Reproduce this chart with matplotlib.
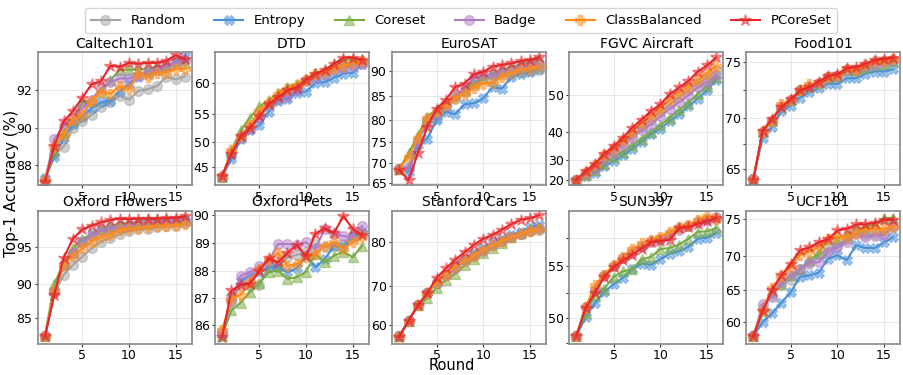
import numpy as np
import matplotlib
matplotlib.use("Agg")
import matplotlib.pyplot as plt
import matplotlib.ticker as ticker
from matplotlib.colors import to_rgba

rounds = np.arange(1, 17)

methods = ["Random", "Entropy", "Coreset", "Badge", "ClassBalanced", "PCoreSet"]
colors = ["#a3a3a3", "#4a90d9", "#77ab43", "#b07cc6", "#ff8c1a", "#e8262a"]
markers = ["o", "X", "^", "o", "P", "*"]

datasets = ["Caltech101", "DTD", "EuroSAT", "FGVC Aircraft", "Food101",
            "Oxford Flowers", "Oxford Pets", "Stanford Cars", "SUN397", "UCF101"]

# rows follow the order of `methods`
caltech101 = [
    [87.2, 88.6, 89.0, 90.0, 90.35, 90.7, 91.1, 91.35, 91.7, 91.5, 91.95, 92.05, 92.2, 92.7, 92.55, 92.7],
    [87.3, 88.45, 89.45, 90.2, 90.6, 91.05, 91.35, 91.45, 91.95, 92.3, 92.7, 92.85, 93.05, 93.2, 93.5, 93.75],
    [87.2, 88.75, 89.8, 90.45, 91.35, 91.5, 91.9, 92.5, 93.05, 93.05, 93.05, 93.1, 93.2, 93.25, 93.4, 93.4],
    [87.2, 89.4, 90.1, 90.5, 91.05, 91.5, 92.1, 92.4, 92.6, 92.6, 92.75, 92.95, 93.05, 93.25, 93.4, 93.55],
    [87.2, 89.0, 89.65, 90.45, 90.7, 91.45, 91.9, 91.8, 92.2, 92.05, 92.85, 92.65, 92.9, 92.9, 93.1, 93.1],
    [87.1, 89.05, 90.35, 90.9, 91.6, 92.3, 92.45, 93.25, 93.2, 93.4, 93.35, 93.4, 93.4, 93.5, 93.8, 93.6],
]
dtd = [
    [42.9, 47.4, 50.7, 52.5, 54.4, 56.4, 57.45, 58.0, 58.8, 60.5, 60.9, 61.4, 62.1, 62.4, 62.9, 63.1],
    [42.9, 46.7, 50.4, 52.2, 52.95, 55.3, 57.1, 57.45, 58.4, 58.6, 59.95, 60.1, 60.8, 61.4, 61.5, 62.8],
    [42.9, 48.3, 52.1, 54.3, 56.2, 57.2, 58.4, 59.4, 59.85, 60.6, 61.5, 61.9, 62.8, 63.4, 63.6, 63.6],
    [42.9, 47.8, 50.9, 52.3, 54.3, 56.5, 57.45, 57.8, 58.8, 60.2, 60.8, 61.3, 61.9, 62.3, 62.5, 62.9],
    [43.0, 48.3, 51.1, 52.95, 55.5, 56.9, 58.2, 59.0, 59.6, 60.5, 61.4, 61.6, 62.2, 62.6, 63.0, 63.3],
    [43.1, 47.6, 51.0, 52.5, 54.5, 56.6, 57.7, 58.8, 59.2, 60.5, 61.4, 62.0, 62.9, 63.8, 63.8, 63.5],
]
eurosat = [
    [68.6, 68.6, 75.0, 79.5, 80.4, 82.7, 84.3, 85.8, 87.2, 88.3, 88.7, 89.3, 89.4, 89.8, 90.0, 90.2],
    [68.6, 67.8, 74.3, 75.8, 79.9, 81.7, 81.2, 83.3, 83.5, 84.5, 86.8, 86.5, 88.7, 89.4, 89.7, 90.4],
    [68.6, 72.4, 76.6, 80.7, 82.2, 83.7, 85.1, 86.2, 87.6, 88.5, 89.5, 90.1, 90.6, 91.3, 91.6, 92.3],
    [68.6, 69.0, 75.4, 79.9, 81.5, 83.4, 84.9, 86.5, 88.6, 89.1, 89.1, 89.8, 90.1, 90.7, 91.0, 91.4],
    [68.6, 71.5, 76.0, 80.3, 81.7, 83.1, 84.5, 85.5, 86.7, 87.5, 87.6, 88.8, 89.5, 90.2, 90.4, 90.7],
    [68.4, 65.6, 72.4, 78.4, 82.4, 84.2, 86.8, 87.5, 89.3, 89.75, 90.8, 91.1, 91.4, 91.8, 92.05, 92.6],
]
fgvc_aircraft = [
    [20.4, 24.1, 27.0, 31.0, 33.8, 36.3, 38.8, 41.4, 43.5, 45.6, 47.6, 49.5, 51.1, 52.9, 54.2, 55.7],
    [20.4, 22.4, 24.1, 27.3, 29.6, 31.9, 34.4, 36.7, 39.2, 40.9, 43.1, 45.0, 47.1, 49.1, 51.1, 53.6],
    [20.4, 22.9, 25.4, 28.5, 31.2, 33.1, 35.5, 37.8, 39.9, 41.9, 44.1, 46.1, 48.0, 50.2, 52.1, 54.2],
    [20.4, 23.8, 26.2, 30.2, 32.8, 35.5, 38.1, 40.4, 42.2, 44.4, 46.5, 48.2, 49.9, 51.8, 53.1, 54.6],
    [20.4, 24.6, 27.8, 31.9, 34.7, 37.2, 39.9, 42.6, 44.4, 46.5, 48.7, 50.5, 51.9, 53.6, 55.0, 56.6],
    [20.4, 25.1, 28.5, 32.5, 35.2, 38.1, 41.2, 43.5, 45.9, 47.6, 50.2, 51.8, 53.3, 55.4, 56.8, 58.5],
]
food101 = [
    [64.0, 68.6, 69.7, 71.0, 71.6, 72.5, 72.8, 73.2, 73.7, 73.8, 74.3, 74.3, 74.7, 75.0, 75.1, 75.1],
    [64.0, 68.05, 69.1, 70.6, 71.1, 71.85, 72.35, 72.7, 73.1, 73.1, 73.6, 73.6, 74.0, 74.2, 74.2, 74.4],
    [64.0, 68.6, 69.7, 71.0, 71.6, 72.5, 72.8, 73.2, 73.75, 73.8, 74.3, 74.3, 74.5, 74.8, 74.9, 75.1],
    [64.0, 68.6, 69.7, 71.0, 71.6, 72.5, 72.8, 73.2, 73.75, 73.8, 74.3, 74.3, 74.6, 74.8, 75.0, 75.2],
    [64.0, 68.75, 69.7, 71.25, 71.6, 72.5, 73.05, 73.2, 73.75, 73.8, 74.4, 74.3, 74.8, 75.1, 75.1, 75.3],
    [63.9, 68.75, 69.9, 70.95, 71.7, 72.5, 72.8, 73.3, 73.8, 73.95, 74.5, 74.6, 74.9, 75.2, 75.3, 75.4],
]
oxford_flowers = [
    [82.25, 88.6, 91.2, 92.6, 93.7, 94.8, 95.7, 96.2, 96.7, 97.1, 97.3, 97.4, 97.6, 97.75, 97.8, 98.1],
    [82.25, 88.9, 92.6, 94.1, 95.7, 96.7, 97.1, 97.4, 97.6, 97.8, 97.85, 98.05, 98.1, 98.2, 98.3, 98.4],
    [82.25, 90.0, 92.8, 94.8, 96.1, 96.6, 97.4, 97.75, 98.05, 98.1, 98.3, 98.6, 98.6, 98.7, 98.7, 98.75],
    [82.25, 88.9, 92.6, 94.2, 95.7, 96.5, 97.2, 97.4, 97.6, 97.8, 98.05, 98.1, 98.2, 98.3, 98.4, 98.5],
    [82.25, 88.9, 92.5, 93.8, 94.8, 95.7, 96.3, 96.6, 97.2, 97.4, 97.45, 97.6, 97.75, 97.8, 97.85, 98.05],
    [82.25, 88.4, 93.5, 96.1, 97.3, 97.8, 98.2, 98.5, 98.7, 98.6, 98.7, 98.7, 98.7, 98.75, 98.8, 99.0],
]
oxford_pets = [
    [85.77, 86.9, 87.46, 87.43, 87.46, 88.18, 88.12, 88.48, 88.57, 88.66, 88.96, 88.84, 88.9, 88.96, 89.29, 89.39],
    [85.65, 87.04, 87.64, 87.82, 87.96, 88.12, 88.12, 87.94, 88.08, 88.54, 88.12, 88.42, 88.9, 88.84, 89.2, 89.36],
    [85.6, 86.55, 86.83, 87.22, 87.55, 87.94, 88.0, 87.7, 87.76, 87.96, 88.6, 88.3, 88.54, 88.69, 88.48, 88.9],
    [85.7, 86.9, 87.82, 87.94, 88.16, 88.36, 88.96, 88.96, 88.93, 89.02, 88.78, 89.5, 89.33, 89.24, 89.2, 89.6],
    [85.8, 86.98, 87.12, 87.6, 88.06, 88.4, 88.64, 88.16, 88.24, 88.48, 88.6, 88.9, 89.02, 88.78, 89.02, 89.24],
    [85.55, 87.28, 87.48, 87.52, 88.0, 88.45, 88.3, 88.64, 88.93, 88.52, 89.33, 89.53, 89.36, 89.96, 89.5, 89.29],
]
stanford_cars = [
    [56.6, 61.1, 65.2, 68.3, 70.7, 72.7, 74.2, 75.8, 77.2, 78.4, 79.4, 80.2, 81.0, 81.7, 82.4, 82.6],
    [56.8, 61.1, 65.2, 68.3, 70.9, 73.0, 74.9, 76.4, 77.7, 78.7, 80.0, 80.7, 81.5, 82.2, 83.1, 83.5],
    [56.6, 61.1, 65.2, 67.0, 69.7, 71.5, 73.0, 74.9, 76.4, 77.7, 78.7, 79.9, 81.0, 81.9, 82.7, 83.1],
    [56.6, 61.1, 65.2, 68.3, 70.9, 72.8, 74.3, 76.0, 77.0, 78.0, 79.3, 80.2, 81.0, 81.7, 82.4, 82.9],
    [56.6, 61.1, 65.2, 68.3, 70.9, 72.8, 74.6, 76.0, 77.1, 78.4, 79.3, 80.3, 81.0, 81.7, 82.4, 82.7],
    [56.4, 61.1, 65.2, 68.3, 72.0, 74.2, 76.2, 77.8, 79.4, 80.7, 81.5, 82.6, 83.7, 84.6, 84.9, 85.5],
]
sun397 = [
    [48.2, 51.1, 52.8, 54.2, 55.0, 55.7, 56.3, 56.8, 57.2, 57.4, 57.8, 58.3, 58.5, 58.9, 59.1, 59.3],
    [48.2, 50.1, 51.5, 52.6, 53.3, 53.9, 54.7, 55.2, 55.1, 55.6, 56.1, 56.3, 56.7, 57.4, 57.5, 57.9],
    [48.2, 50.5, 52.3, 52.9, 54.0, 54.5, 54.7, 55.6, 55.8, 56.5, 56.6, 56.9, 57.4, 58.0, 58.05, 58.35],
    [48.2, 51.1, 52.8, 54.1, 55.0, 55.7, 56.2, 56.8, 57.1, 57.4, 57.7, 58.2, 58.5, 58.85, 59.05, 59.2],
    [48.2, 51.1, 53.25, 54.2, 55.1, 55.8, 56.5, 57.0, 57.3, 57.6, 58.0, 58.4, 58.6, 59.0, 59.35, 59.1],
    [48.2, 51.0, 52.5, 54.0, 54.9, 55.5, 56.0, 56.55, 57.1, 57.2, 57.3, 58.35, 58.4, 58.7, 58.9, 59.2],
]
ucf101 = [
    [57.6, 62.2, 64.3, 65.8, 66.6, 68.1, 68.9, 70.1, 71.0, 71.5, 72.35, 73.1, 72.9, 73.0, 73.1, 73.9],
    [57.6, 60.0, 61.4, 63.1, 64.7, 67.0, 67.2, 67.6, 69.6, 70.1, 69.4, 71.5, 71.1, 71.1, 71.9, 72.6],
    [57.6, 61.7, 64.8, 66.0, 67.2, 68.1, 69.4, 70.4, 72.4, 72.4, 72.9, 73.7, 73.9, 74.3, 75.1, 75.2],
    [57.6, 62.85, 64.0, 66.2, 67.3, 68.1, 69.1, 69.1, 70.6, 71.2, 71.9, 73.0, 72.6, 72.8, 72.9, 74.1],
    [57.6, 62.0, 65.4, 67.1, 68.4, 70.2, 70.6, 71.2, 72.35, 72.6, 72.6, 73.2, 73.7, 73.7, 73.7, 74.0],
    [57.6, 61.8, 65.0, 67.2, 68.9, 70.8, 71.2, 71.9, 72.3, 73.5, 73.7, 74.3, 74.3, 74.5, 74.9, 74.9],
]

all_results = [caltech101, dtd, eurosat, fgvc_aircraft, food101,
               oxford_flowers, oxford_pets, stanford_cars, sun397, ucf101]

y_limits = [(86.9, 93.95), (41.0, 64.6), (64.3, 93.5), (16.7, 59.6), (63.3, 75.9),
            (81.1, 99.7), (85.3, 90.15), (54.3, 86.4), (47.4, 59.8), (56.3, 76.1)]


def int_only(v, pos):
    # only label whole-number ticks
    return "%d" % round(v) if abs(v - round(v)) < 1e-6 else ""


fig, axes = plt.subplots(2, 5, figsize=(9.04, 3.75), dpi=100)
fig.subplots_adjust(left=0.042, right=0.996, top=0.861, bottom=0.083,
                    wspace=0.15, hspace=0.19)

handles = []
for k, ax in enumerate(axes.flat):
    ax.set_yscale("function", functions=(lambda v: np.asarray(v) ** 2,
                                         lambda v: np.sqrt(np.clip(v, 0, None))))
    for i, m in enumerate(methods):
        h, = ax.plot(rounds, all_results[k][i], color=colors[i], lw=1.5,
                     marker=markers[i], ms=7 if markers[i] != "*" else 9,
                     markerfacecolor=to_rgba(colors[i], 0.5),
                     markeredgecolor=to_rgba(colors[i], 0.5),
                     label=m)
        if k == 0:
            handles.append(h)

    ax.set_title(datasets[k], fontsize=10, pad=3)
    ax.set_ylim(*y_limits[k])
    ax.set_xticks([5, 10, 15])
    ax.yaxis.set_major_locator(ticker.MaxNLocator(nbins=6, steps=[1, 2, 2.5, 5, 10]))
    ax.yaxis.set_major_formatter(ticker.FuncFormatter(int_only))
    ax.tick_params(labelsize=9, colors="#333333", length=2.5, pad=1.5)
    ax.tick_params(axis="both", labelcolor="black")
    ax.grid(True, color="#dddddd", lw=0.7, alpha=0.7)
    ax.set_axisbelow(True)
    for s in ax.spines.values():
        s.set_color("#888888")
        s.set_linewidth(1.2)

fig.legend(handles, methods, loc="upper center", bbox_to_anchor=(0.51, 0.995),
           ncol=6, fontsize=9.5, frameon=True, columnspacing=2.2,
           handlelength=2.2, borderpad=0.45)

fig.text(0.013, 0.51, "Top-1 Accuracy (%)", rotation=90, ha="center", va="center",
         fontsize=11)
fig.text(0.5, 0.025, "Round", ha="center", va="center", fontsize=10.5)

plt.savefig("out.png", dpi=100)
